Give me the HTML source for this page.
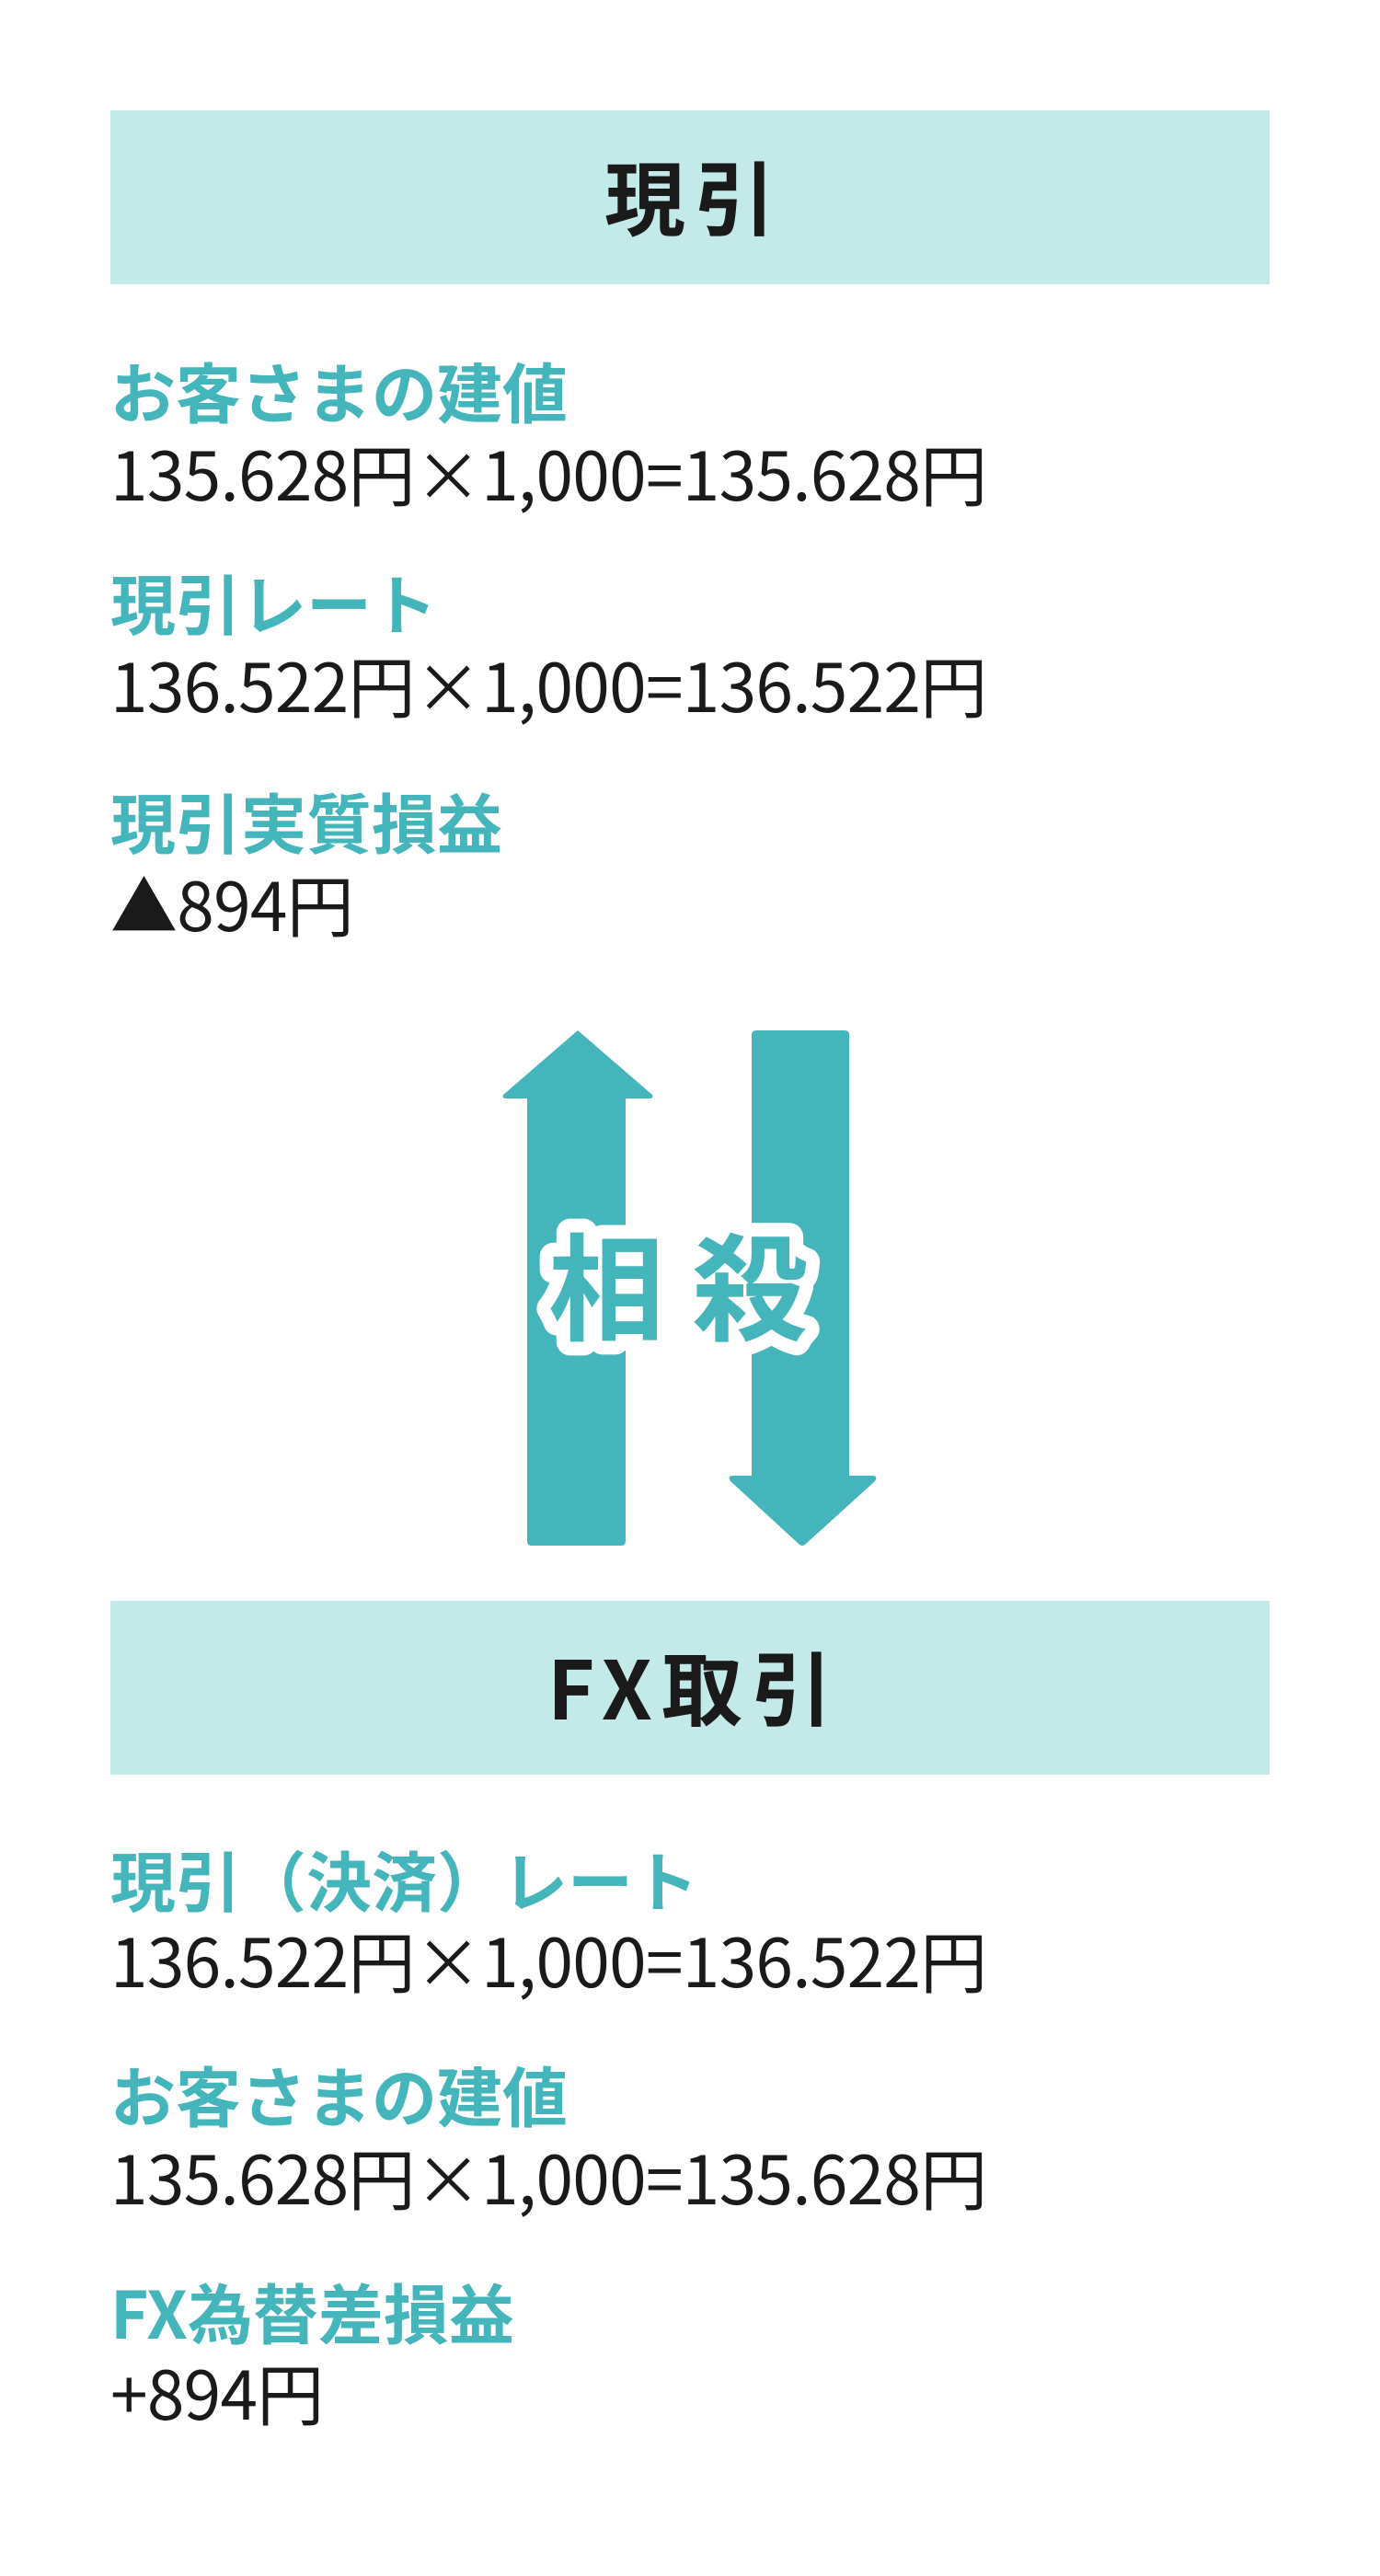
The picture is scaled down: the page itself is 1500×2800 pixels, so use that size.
<!DOCTYPE html>
<html><head><meta charset="utf-8"><style>
html,body{margin:0;padding:0;background:#fff;}
body{width:1500px;height:2800px;position:relative;overflow:hidden;font-family:"Noto Sans CJK JP","Liberation Sans",sans-serif;}
.box{position:absolute;left:120px;width:1260px;height:189px;background:#c3e9e8;}
.box span{position:absolute;left:10px;right:0;text-align:center;font-weight:700;font-size:88px;line-height:88px;color:#1a1a1a;letter-spacing:10px;}
.l{position:absolute;left:120px;font-weight:700;font-size:71px;line-height:71px;color:#43b5bb;white-space:nowrap;}
.v{position:absolute;left:120px;font-weight:400;font-size:73px;line-height:73px;color:#1a1a1a;white-space:nowrap;letter-spacing:-0.7px;}
</style></head><body>
<div class="box" style="top:120px"><span style="top:48px">現引</span></div>
<div class="l" style="top:389px">お客さまの建値</div>
<div class="v" style="top:477px">135.628円×1,000=135.628円</div>
<div class="l" style="top:619px">現引レート</div>
<div class="v" style="top:707px">136.522円×1,000=136.522円</div>
<div class="l" style="top:857px">現引実質損益</div>
<div class="v" style="top:945px">▲894円</div>

<svg style="position:absolute;left:0;top:0" width="1500" height="2800">
<path d="M628 1120 L709 1190 Q711 1194 705 1194 L680 1194 L680 1675 Q680 1680 675 1680 L578 1680 Q573 1680 573 1675 L573 1194 L551 1194 Q545 1194 547 1190 Z" fill="#43b5bb"/>
<path d="M822 1120 L918 1120 Q923 1120 923 1125 L923 1604 L948 1604 Q955 1604 951 1610 L876 1678 Q872 1682 868 1678 L794 1610 Q790 1604 797 1604 L817 1604 L817 1125 Q817 1120 822 1120 Z" fill="#43b5bb"/>
<text x="752" y="1447" text-anchor="middle" font-family="Noto Sans CJK JP, sans-serif" font-weight="700" font-size="126" letter-spacing="30" fill="#43b5bb" stroke="#fff" stroke-width="30" stroke-linejoin="round" paint-order="stroke">相殺</text>
</svg>

<div class="box" style="top:1740px"><span style="top:48px">FX取引</span></div>
<div class="l" style="top:2007px">現引（決済）レート</div>
<div class="v" style="top:2093px">136.522円×1,000=136.522円</div>
<div class="l" style="top:2241px">お客さまの建値</div>
<div class="v" style="top:2329px">135.628円×1,000=135.628円</div>
<div class="l" style="top:2477px">FX為替差損益</div>
<div class="v" style="top:2563px">+894円</div>
</body></html>
